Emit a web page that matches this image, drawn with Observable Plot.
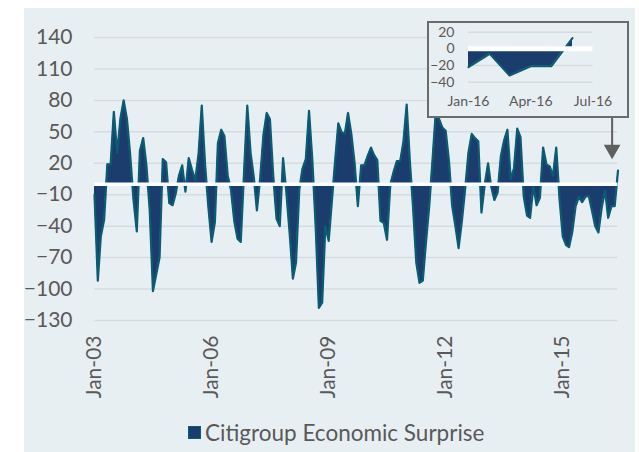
<!DOCTYPE html>
<html><head><meta charset="utf-8">
<script src="https://cdn.jsdelivr.net/npm/d3@7"></script>
<script src="https://cdn.jsdelivr.net/npm/@observablehq/plot@0.6"></script>
<style>
html,body{margin:0;padding:0;background:#fff;}
#wrap{position:relative;width:639px;height:452px;overflow:hidden;font-family:Lato,'Open Sans',sans-serif;}
#panel{position:absolute;left:24px;top:8px;width:611px;height:444px;background:#e8eff3;}
#main{position:absolute;left:0;top:0;}
#inset{position:absolute;left:427px;top:21px;width:202px;height:97px;box-sizing:border-box;border:2px solid #6b6b6b;background:#e8eff3;}
#inset svg{display:block;}
#legend{position:absolute;left:188px;top:419px;height:26px;display:flex;align-items:center;font-size:22.5px;color:#595959;}
#legend .sw{display:inline-block;width:11px;height:11px;background:#1b3d6d;border:1.5px solid #0b5b72;margin-right:4px;}
</style>
</head><body>
<div id="wrap">
  <div id="panel"></div>
  <div id="main"></div>
  <div id="inset"></div>
  <div id="legend"><span class="sw"></span><span>Citigroup Economic Surprise</span></div>
</div>
<script>
// Monthly series, Jan-03 .. Jun-16
const seriesName = "Citigroup Economic Surprise";
const firstMonth = "2003-01";
const surprise = [
 -10,-92,-50,-34,19,19,69,30,63,80,62,28,
 -15,-45,32,44,18,-25,-102,-86,-70,24,21,-18,
 -20,-8,8,18,-7,25,14,4,29,75,19,-21,
 -55,-36,39,52,46,8,-5,-35,-52,-55,12,75,
 30,6,-25,6,47,68,62,8,-33,-40,25,-7,
 -46,-90,-75,-5,15,24,70,23,-40,-118,-113,-40,
 -54,-15,21,58,50,48,68,48,20,-21,18,18,
 27,35,28,23,-35,-37,-53,0,12,22,22,40,
 76,20,-21,-75,-94,-92,-55,-20,25,70,62,54,
 51,22,-20,-40,-61,-35,-5,30,48,44,41,-27,
 0,20,-2,-15,-8,27,42,52,5,15,53,45,
 -12,-30,-32,-2,-20,-13,35,19,17,8,35,-13,
 -50,-58,-60,-45,-21,-12,-17,-12,-11,-25,-40,-46,
 -22,-6,-32,-21,-21,13
];
const yTicks = [-130,-100,-70,-40,-10,20,50,80,110,140];
const xTickLabels = ["2003-01","2006-01","2009-01","2012-01","2015-01"];

// Inset (2016)
const insetMonths = ["2016-01","2016-02","2016-03","2016-04","2016-05","2016-06"];
const insetValues = [-22,-6,-32,-21,-21,13];
const insetYTicks = [-40,-20,0,20];
const insetXTicks = ["2016-01","2016-04","2016-07"];

// Arrow annotation (data space)
const arrowDate = "2016-04-07";
const arrowFrom = 64, arrowTo = 36, arrowHead = 33;

const parse = d3.utcParse("%Y-%m");
const parseDay = d3.utcParse("%Y-%m-%d");
const start = parse(firstMonth);
const data = surprise.map((v, i) => ({date: d3.utcMonth.offset(start, i), value: v}));
const insetData = insetMonths.map((m, i) => ({date: parse(m), value: insetValues[i]}));
const fill = "#1b3d6d", edge = "#0b5b72", txt = "#595959", grid = "#d5dce0";

const main = Plot.plot({
  width: 639, height: 410,
  marginLeft: 94, marginRight: 21.5, marginTop: 37, marginBottom: 90,
  style: {background: "transparent", fontFamily: "Lato, 'Open Sans', sans-serif", fontSize: "21px", color: txt, overflow: "visible"},
  x: {type: "utc", domain: [start, data[data.length - 1].date], ticks: xTickLabels.map(parse),
      tickFormat: d3.utcFormat("%b-%y"), tickRotate: -90, tickSize: 0, tickPadding: 15, label: null},
  y: {domain: [-130, 140], ticks: yTicks, tickSize: 0, tickPadding: 22, label: null},
  marks: [
    Plot.ruleY(yTicks, {stroke: grid, strokeWidth: 1.5}),
    Plot.areaY(data, {x: "date", y: "value", fill: fill}),
    Plot.lineY(data, {x: "date", y: "value", stroke: edge, strokeWidth: 2.2}),
    Plot.ruleY([0], {stroke: "#fff", strokeWidth: 3.5}),
    Plot.link([0], {x1: () => parseDay(arrowDate), x2: () => parseDay(arrowDate), y1: () => arrowFrom, y2: () => arrowTo, stroke: "#5f5f5f", strokeWidth: 2}),
    Plot.dot([0], {x: () => parseDay(arrowDate), y: () => arrowHead, symbol: "triangle", r: 6.2, rotate: 180, fill: "#5f5f5f", stroke: "none"})
  ]
});
document.getElementById("main").appendChild(main);

const inset = Plot.plot({
  width: 198, height: 93,
  marginLeft: 39, marginRight: 34.5, marginTop: 8.7, marginBottom: 34.3,
  style: {background: "transparent", fontFamily: "Lato, 'Open Sans', sans-serif", fontSize: "14px", color: txt, overflow: "visible"},
  x: {type: "utc", domain: [parse("2016-01"), parse("2016-07")], ticks: insetXTicks.map(parse),
      tickFormat: d3.utcFormat("%b-%y"), tickSize: 0, tickPadding: 14, label: null},
  y: {domain: [-40, 20], ticks: insetYTicks, tickSize: 0, tickPadding: 14, label: null},
  marks: [
    Plot.ruleY(insetYTicks, {stroke: grid, strokeWidth: 1.5}),
    Plot.areaY(insetData, {x: "date", y: "value", fill: fill}),
    Plot.lineY(insetData, {x: "date", y: "value", stroke: edge, strokeWidth: 2}),
    Plot.ruleY([0], {stroke: "#fff", strokeWidth: 5})
  ]
});
document.getElementById("inset").appendChild(inset);
</script>
</body></html>
